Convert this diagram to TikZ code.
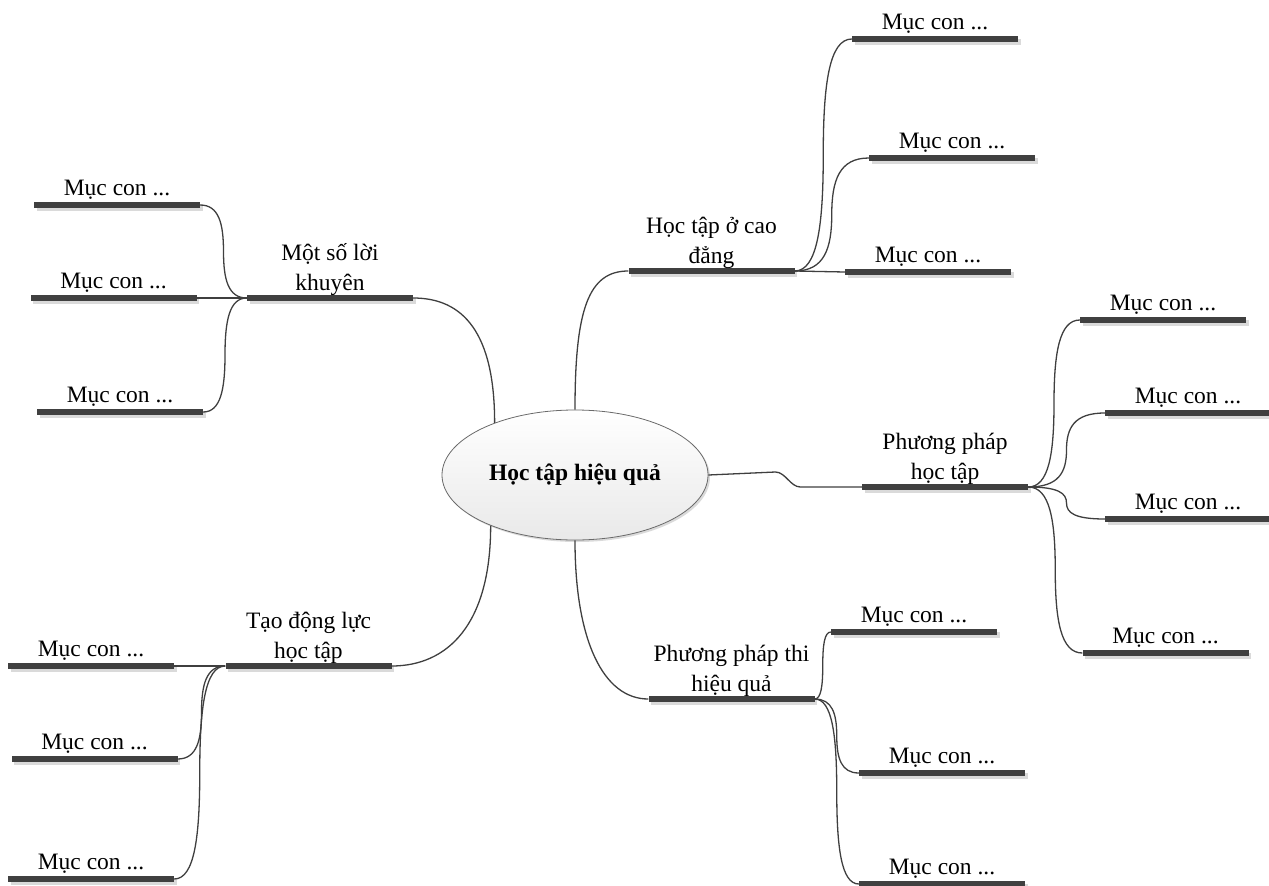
\documentclass[tikz,border=0pt]{standalone}
\usepackage{fontspec}
\setmainfont{Liberation Serif}
\usepackage{tikz}
\usetikzlibrary{shapes.geometric,shadows,calc}
\definecolor{mm_bar}{HTML}{404040}
\definecolor{mm_line}{HTML}{3F3F3F}
\definecolor{mm_shadow}{HTML}{DADADA}
\definecolor{mm_core}{HTML}{E9E9E9}
\definecolor{mm_rim}{HTML}{6A6A6A}

\tikzset{
    topic/.style={fill=mm_bar, minimum width=166pt, minimum height=5.5pt, inner sep=0pt,
        drop shadow={fill=mm_shadow, opacity=1, shadow xshift=2.5pt, shadow yshift=-3pt}},
    txt/.style={inner sep=0pt, align=center, font=\fontsize{23.5}{30}\selectfont},
    branch/.style={draw=mm_line, line width=1.3pt},
    % two half curves that meet upright half way
    kid/.style={to path={let \p1=(\tikztostart), \p2=(\tikztotarget),
        \n1={0.4*(\x2-\x1)}, \n2={0.3*(\y2-\y1)} in
        .. controls +({\n1*1pt},0pt) and +(0pt,{-\n2*1pt}) .. ($(\p1)!.5!(\p2)$)
        .. controls +(0pt,{\n2*1pt}) and +({-\n1*1pt},0pt) .. (\tikztotarget)}},
}

\begin{document}
\begin{tikzpicture}[x=1pt, y=-1pt]
            \useasboundingbox (0,0) rectangle (1269,886);

            % centre
            \node[ellipse, draw=mm_rim, line width=0.8pt, top color=white, bottom color=mm_core,
                minimum width=266pt, minimum height=130pt, inner sep=0pt,
                drop shadow={fill=mm_shadow, opacity=1, shadow xshift=2pt, shadow yshift=-2pt},
                font=\fontsize{23.5}{30}\selectfont\bfseries] (hq) at (575,475) {Học tập hiệu quả};

            % main branches
            \node[topic] (kh) at (330,298) {};
            \node[topic] (dl) at (308.5,666) {};
            \node[topic] (cd) at (711.5,271) {};
            \node[topic] (pp) at (945,487) {};
            \node[topic] (th) at (731.5,699) {};

            \node[txt, anchor=south] (kht) at ([yshift=-0.6pt]kh.north) {Một số lời\\khuyên};
            \node[txt, anchor=south] (dlt) at ([yshift=-0.6pt]dl.north) {Tạo động lực\\học tập};
            \node[txt, anchor=south] (cdt) at ([yshift=-0.6pt]cd.north) {Học tập ở cao\\đẳng};
            \node[txt, anchor=south] (ppt) at ([yshift=-0.6pt]pp.north) {Phương pháp\\học tập};
            \node[txt, anchor=south] (tht) at ([yshift=-0.6pt]th.north) {Phương pháp thi\\hiệu quả};

            % sub items
            \node[topic] (kh1) at (117,205) {};
            \node[topic] (kh2) at (113.5,298) {};
            \node[topic] (kh3) at (120,412) {};
            \node[topic] (dl1) at (91,666) {};
            \node[topic] (dl2) at (94.5,759) {};
            \node[topic] (dl3) at (91,879) {};
            \node[topic] (cd1) at (935,39) {};
            \node[topic] (cd2) at (952,158) {};
            \node[topic] (cd3) at (928,272) {};
            \node[topic] (pp1) at (1163,320) {};
            \node[topic] (pp2) at (1188,413) {};
            \node[topic] (pp3) at (1188,519) {};
            \node[topic] (pp4) at (1165.5,653) {};
            \node[topic] (th1) at (914,632) {};
            \node[topic] (th2) at (942,773) {};
            \node[topic] (th3) at (942,884) {};

            \foreach \k in {kh1,kh2,kh3,dl1,dl2,dl3,cd1,cd2,cd3,pp1,pp2,pp3,pp4,th1,th2,th3}
                \node[txt, anchor=base] (\k t) at ([yshift=10pt]\k.center) {Mục con ...};

            % centre to branches
            \draw[branch] (hq.147) to[out=90, in=0, out distance=90pt, in distance=50pt] (kh.east);
            \draw[branch] (hq.north) to[out=90, in=180, out distance=100pt, in distance=40pt] (cd.west);
            \draw[branch] (hq.211) to[out=270, in=0, out distance=100pt, in distance=55pt] (dl.east);
            \draw[branch] (hq.south) to[out=270, in=180, out distance=100pt, in distance=45pt] (th.west);
            \draw[branch] (hq.east) -- ++(67,-3) to[out=0, in=180, distance=10pt] ++(25,15) -- (pp.west);

            % branches to items
            \draw[branch] (kh.west) to[kid] (kh1.east);
            \draw[branch] (kh.west) -- (kh2.east);
            \draw[branch] (kh.west) to[kid] (kh3.east);
            \draw[branch] (dl.west) -- (dl1.east);
            \draw[branch] (dl.west) to[kid] (dl2.east);
            \draw[branch] (dl.west) to[kid] (dl3.east);
            \draw[branch] (cd.east) to[kid] (cd1.west);
            \draw[branch] (cd.east) to[kid] (cd2.west);
            \draw[branch] (cd.east) -- (cd3.west);
            \draw[branch] (pp.east) to[kid] (pp1.west);
            \draw[branch] (pp.east) to[kid] (pp2.west);
            \draw[branch] (pp.east) to[kid] (pp3.west);
            \draw[branch] (pp.east) to[kid] (pp4.west);
            \draw[branch] (th.east) to[kid] (th1.west);
            \draw[branch] (th.east) to[kid] (th2.west);
            \draw[branch] (th.east) to[kid] (th3.west);

        \end{tikzpicture}
\end{document}
